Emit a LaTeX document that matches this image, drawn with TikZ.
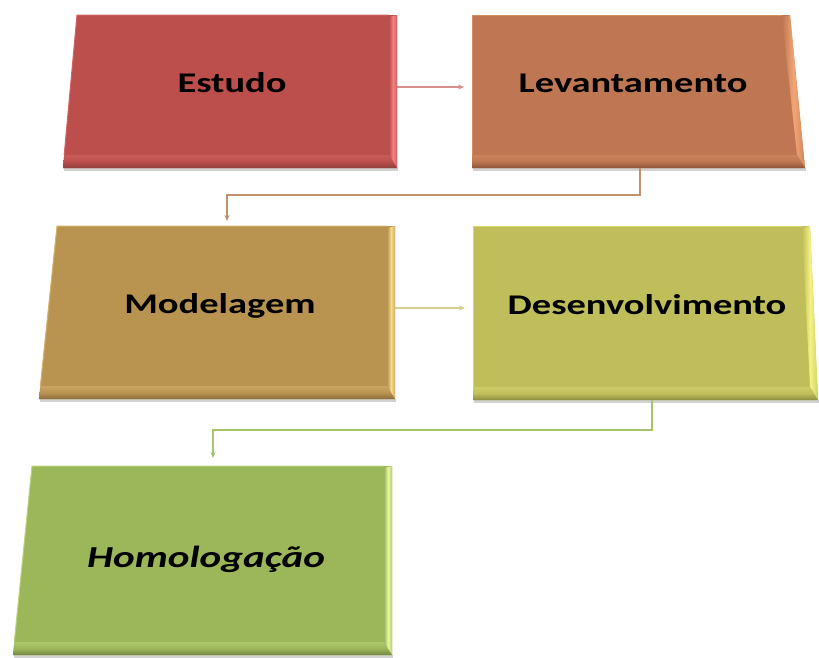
\documentclass[tikz,border=0pt]{standalone}
\usepackage{fontspec}
\usetikzlibrary{arrows.meta,calc}
\newfontfamily\boxfont[FakeStretch=1.35]{Carlito}
\definecolor{estC}{HTML}{BC4E4C}\definecolor{estH}{HTML}{F08482}\definecolor{estD}{HTML}{8E3F3D}
\definecolor{levC}{HTML}{BE7752}\definecolor{levH}{HTML}{F2A676}\definecolor{levD}{HTML}{8C5438}
\definecolor{modC}{HTML}{B99451}\definecolor{modH}{HTML}{F8DA8A}\definecolor{modD}{HTML}{8A6D39}
\definecolor{devC}{HTML}{BFBE5B}\definecolor{devH}{HTML}{F4F284}\definecolor{devD}{HTML}{8C8B40}
\definecolor{homC}{HTML}{9BB75A}\definecolor{homH}{HTML}{E6F7A2}\definecolor{homD}{HTML}{70873F}
\definecolor{arA}{HTML}{D98E8C}\definecolor{arB}{HTML}{C4906B}
\definecolor{arC}{HTML}{D6D08F}\definecolor{arD}{HTML}{A5C46C}
% #1 TLx #2 TRx #3 BRx #4 BLx #5 top y #6 bottom y #7 base #8 highlight #9 dark
\newcommand{\drawbevelbox}[9]{%
  \fill[black!35,opacity=0.5] (#4+1,#6) -- (#3+1,#6) -- (#3+1,#6+3) -- (#4+1,#6+3) -- cycle;
  \fill[#7] (#1,#5) -- (#2,#5) -- (#3,#6) -- (#4,#6) -- cycle;
  \shade[left color=#7, right color=#7!65!#8, middle color=#8]
    (#2-8,#5+2) -- (#2,#5) -- (#3,#6) -- (#3-8,#6-13) -- cycle;
  \shade[top color=#7!75!#8, bottom color=#9, middle color=#7]
    (#4,#6) -- (#3,#6) -- (#3-8,#6-13) -- ({#4+(#1-#4)*13/(#6-#5)},#6-13) -- cycle;
  \draw[#7!55!#8, line width=1pt] ({#4+(#1-#4)*13/(#6-#5)},#6-13) -- (#1,#5) -- (#2-8,#5);
}
\tikzset{
  boxtext/.style={anchor=base, inner sep=0pt, text=black,
    font=\boxfont\bfseries\fontsize{28.5}{32}\selectfont},
  conn/.style={line width=1.4pt, -{Stealth[length=6pt,width=5pt]}}
}
\begin{document}
\begin{tikzpicture}[x=1pt,y=-1pt]
\useasboundingbox (0,0) rectangle (819,657);
\fill[white] (0,0) rectangle (819,657);
% boxes
\drawbevelbox{77}{397}{397}{63}{15}{168}{estC}{estH}{estD}
\drawbevelbox{472}{790}{805}{472}{15}{168}{levC}{levH}{levD}
\drawbevelbox{57}{395}{395}{39}{226}{399}{modC}{modH}{modD}
\drawbevelbox{473}{810}{818}{473}{226}{400}{devC}{devH}{devD}
\drawbevelbox{32}{392}{392}{13}{466}{655}{homC}{homH}{homD}
% text
\node[boxtext] (estudo) at (232,92) {Estudo};
\node[boxtext] (levant) at (633,92) {Levantamento};
\node[boxtext] (model) at (220,313) {Modelagem};
\node[boxtext] (desenv) at (647,314) {Desenvolvimento};
\node[boxtext, font=\boxfont\bfseries\itshape\fontsize{30.5}{34}\selectfont] (homol) at (206,567) {Homologação};
% connector end points
\coordinate (estR) at (397,87);
\coordinate (levL) at (472,87);
\coordinate (levB) at (640,168);
\coordinate (modT) at (227,226);
\coordinate (modR) at (395,308);
\coordinate (devL) at (473,308);
\coordinate (devB) at (652,400);
\coordinate (homT) at (213,466);
% connectors
\draw[conn, arA, shorten >=8pt] (estR) -- (levL);
\draw[conn, arB, shorten >=5pt] (levB) -- ++(0,27) -| (modT);
\draw[conn, arC, shorten >=8pt] (modR) -- (devL);
\draw[conn, arD, shorten >=8pt] (devB) -- ++(0,30) -| (homT);
\end{tikzpicture}
\end{document}
